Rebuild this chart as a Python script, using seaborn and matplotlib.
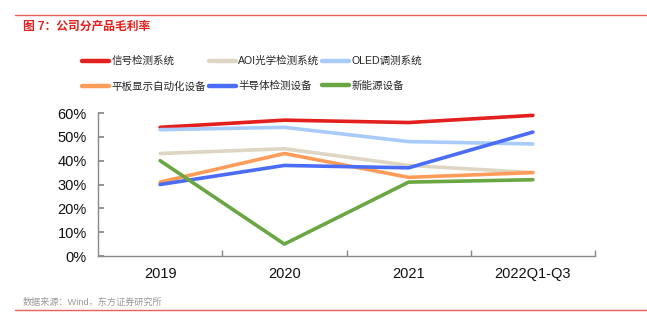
import matplotlib
matplotlib.use("Agg")
import matplotlib.pyplot as plt
import seaborn as sns
import pandas as pd
from matplotlib.ticker import FuncFormatter, FixedLocator

periods = ["2019", "2020", "2021", "2022Q1-Q3"]
series_names = ["信号检测系统", "AOI光学检测系统", "OLED调测系统",
                "平板显示自动化设备", "半导体检测设备", "新能源设备"]
signal = [54, 57, 56, 59]
aoi = [43, 45, 38, 35]
oled = [53, 54, 48, 47]
flat = [31, 43, 33, 35]
semi = [30, 38, 37, 52]
energy = [40, 5, 31, 32]
colors = ["#E3201E", "#DED6C3", "#A9CBFA", "#FF9C5A", "#4A6CF6", "#6AA743"]

sns.set_theme(style="white")
plt.rcParams['font.family'] = ['Liberation Sans', 'Noto Sans CJK SC', 'DejaVu Sans']

values = [signal, aoi, oled, flat, semi, energy]
rows = []
for name, vals in zip(series_names, values):
    for i, (p, v) in enumerate(zip(periods, vals)):
        rows.append({"period": p, "x": i, "series": name, "value": v / 100})
df = pd.DataFrame(rows)

fig = plt.figure(figsize=(6.47, 3.25), dpi=100)
ax = fig.add_axes([98 / 647, 1 - 256 / 325, (595 - 98) / 647, (256 - 113) / 325])
sns.lineplot(data=df, x="x", y="value", hue="series", hue_order=series_names,
             palette=colors, linewidth=2.6, ax=ax, legend=False, sort=False)

ax.set_xlim(-0.5, 3.5)
ax.set_ylim(0, 0.6)
ax.set_xticks(range(4))
ax.set_xticklabels(periods)
ax.xaxis.set_minor_locator(FixedLocator([0.5, 1.5, 2.5, 3.5]))
ax.tick_params(axis="x", which="major", length=0, labelsize=10.5, pad=8)
ax.tick_params(axis="x", which="minor", length=4, direction="in", color="#888888", bottom=True)
ax.set_yticks([0, 0.1, 0.2, 0.3, 0.4, 0.5, 0.6])
ax.yaxis.set_major_formatter(FuncFormatter(lambda v, p: f"{v*100:.0f}%"))
ax.tick_params(axis="y", length=4, direction="in", color="#888888", labelsize=10.5,
               pad=8, left=True)
for lab in ax.get_yticklabels() + ax.get_xticklabels():
    lab.set_color("#111111")
ax.set_xlabel("")
ax.set_ylabel("")
for s in ["top", "right"]:
    ax.spines[s].set_visible(False)
for s in ["left", "bottom"]:
    ax.spines[s].set_color("#888888")
    ax.spines[s].set_linewidth(1.0)

# legend
handles = [plt.Line2D([], [], color=c, linewidth=3.2) for c in colors]
order = [0, 3, 1, 4, 2, 5]
fig.legend([handles[i] for i in order], [series_names[i] for i in order],
           ncol=3, loc="upper left", bbox_to_anchor=(82 / 647, 1 - 56 / 325),
           frameon=False, fontsize=7.6, handlelength=2.6, handletextpad=0.2,
           columnspacing=0.25, labelspacing=1.4, borderaxespad=0, borderpad=0)

# title, rules, source
fig.add_artist(plt.Line2D([15 / 647, 1], [1 - 15 / 325] * 2, color="#E8605A", linewidth=1.0))
fig.text(23 / 647, 1 - 27 / 325, "图 7：公司分产品毛利率", color="#E3201E",
         fontsize=8.5, fontweight="bold", va="center", ha="left")
fig.text(23 / 647, 1 - 302 / 325, "数据来源：Wind，东方证券研究所", color="#999999",
         fontsize=6.6, va="center", ha="left")
fig.add_artist(plt.Line2D([15 / 647, 1], [1 - 310 / 325] * 2, color="#E8605A", linewidth=1.0))

fig.savefig("out.png", dpi=100)
